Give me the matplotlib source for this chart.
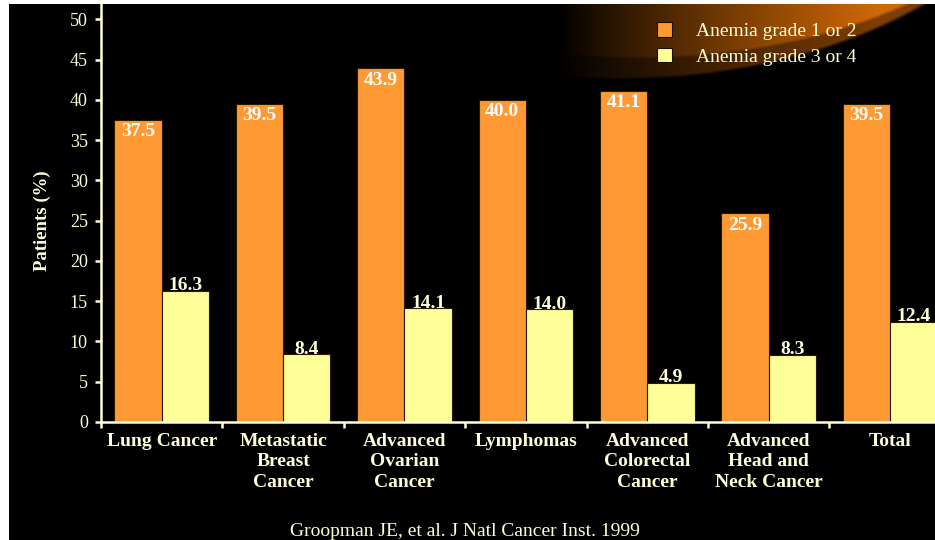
import numpy as np
import matplotlib
matplotlib.use("Agg")
import matplotlib.pyplot as plt
from matplotlib.patches import Patch

# ---- data -------------------------------------------------------------
categories = [
    "Lung Cancer",
    "Metastatic\nBreast\nCancer",
    "Advanced\nOvarian\nCancer",
    "Lymphomas",
    "Advanced\nColorectal\nCancer",
    "Advanced\nHead and\nNeck Cancer",
    "Total",
]
grade_1_2 = [37.5, 39.5, 43.9, 40.0, 41.1, 25.9, 39.5]
grade_3_4 = [16.3, 8.4, 14.1, 14.0, 4.9, 8.3, 12.4]
series_labels = ["Anemia grade 1 or 2", "Anemia grade 3 or 4"]
y_ticks = list(range(0, 51, 5))
y_label = "Patients (%)"
source_note = "Groopman JE, et al. J Natl Cancer Inst. 1999"

# ---- style ------------------------------------------------------------
SERIF = "Liberation Serif"
CREAM = "#FFFFD6"
ORANGE = "#FF9933"
YELLOW = "#FFFF99"
EDGE = "#2a1a00"

W, H = 935, 540
fig = plt.figure(figsize=(W / 100, H / 100), dpi=100, facecolor="white")

# ---- slide background: black panel with an orange swoosh --------------
bg = fig.add_axes([0, 0, 1, 1])
bg.axis("off")
Y, X = np.mgrid[0:H, 0:W] + 0.5
img = np.ones((H, W, 3))
panel = (X >= 9) & (Y >= 4)
img[panel] = 0.0

def ellipse_r(cx, cy, a, b):
    return np.sqrt(((X - cx) / a) ** 2 + ((Y - cy) / b) ** 2)

outer = ellipse_r(620, -200, 450, 280)
inner = ellipse_r(640, -205, 445, 264)
fade = np.clip((X - 560) / 320, 0, 1) ** 0.9
edge_o = np.clip((1.0 - outer) / 0.012, 0, 1)
edge_i = np.clip((1.0 - inner) / 0.012, 0, 1)
level = fade * (0.6 * edge_o + 0.4 * edge_i)
glow_col = np.array([0.82, 0.41, 0.02])
glow = level[..., None] * glow_col
img = np.where(panel[..., None], np.maximum(img, glow), img)
bg.imshow(img, extent=(0, W, H, 0), aspect="auto", interpolation="bilinear")
bg.set_xlim(0, W)
bg.set_ylim(H, 0)

# ---- main chart -------------------------------------------------------
ax = fig.add_axes([101 / W, 118 / H, (W - 101) / W, (536 - 118) / H])
ax.set_facecolor("none")

x = np.arange(len(categories))
w = 0.39
ax.bar(x - w / 2, grade_1_2, w, color=ORANGE, edgecolor=EDGE, linewidth=0.8,
       label=series_labels[0])
ax.bar(x + w / 2, grade_3_4, w, color=YELLOW, edgecolor=EDGE, linewidth=0.8,
       label=series_labels[1])

for s in ("top", "right"):
    ax.spines[s].set_visible(False)
for s in ("left", "bottom"):
    ax.spines[s].set_color(CREAM)
    ax.spines[s].set_linewidth(1.8)

ax.set_yticks(y_ticks)
ax.set_yticklabels([str(t) for t in y_ticks], family=SERIF, fontsize=13, color=CREAM)
ax.tick_params(axis="y", length=4.5, width=1.8, color=CREAM, pad=5)

ax.set_xticks(np.arange(-0.5, len(categories), 1.0))
ax.set_xticklabels([])
ax.tick_params(axis="x", which="major", length=4, width=1.8, color=CREAM)
ax.set_xticks(x, categories, minor=True)
for lbl in ax.get_xticklabels(minor=True):
    lbl.set_family(SERIF)
    lbl.set_fontsize(14)
    lbl.set_fontweight("bold")
    lbl.set_color(CREAM)
    lbl.set_linespacing(1.25)
ax.tick_params(axis="x", which="minor", length=0, pad=8)

# limits last, so the tick placement does not widen them
ax.set_xlim(-0.5, 6.37)
ax.set_ylim(0, 51.9)

for xi, v in zip(x, grade_1_2):
    ax.annotate(f"{v:.1f}", (xi - w / 2, v), xytext=(0, -2.5), textcoords="offset points",
                ha="center", va="top", family=SERIF, fontsize=14, fontweight="bold",
                color="white")
for xi, v in zip(x, grade_3_4):
    ax.annotate(f"{v:.1f}", (xi + w / 2, v), xytext=(0, 0.5), textcoords="offset points",
                ha="center", va="baseline", family=SERIF, fontsize=14, fontweight="bold",
                color=CREAM)

fig.text(42 / W, 1 - 221 / H, y_label, rotation=90, ha="center", va="center",
         family=SERIF, fontsize=13.5, fontweight="bold", color=CREAM)

handles = [Patch(facecolor=ORANGE, edgecolor="#1a1000", linewidth=0.8),
           Patch(facecolor=YELLOW, edgecolor="#1a1000", linewidth=0.8)]
fig.legend(handles, series_labels, loc="upper left",
           bbox_to_anchor=(657 / W, 1 - 22 / H), frameon=False,
           prop=dict(family=SERIF, size=14), labelcolor=CREAM,
           handlelength=0.78, handleheight=0.78, handletextpad=1.2,
           labelspacing=0.4, borderpad=0, borderaxespad=0)

fig.text(465 / W, (H - 536) / H, source_note, ha="center", va="baseline",
         family=SERIF, fontsize=14, color=CREAM)

fig.savefig("out.png", dpi=100, facecolor=fig.get_facecolor())
